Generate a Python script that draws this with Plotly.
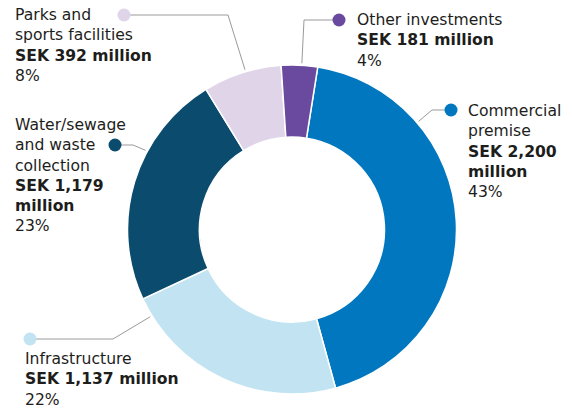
import math
import plotly.graph_objects as go

# Investment breakdown (SEK million)
categories = [
    "Commercial premise",
    "Infrastructure",
    "Water/sewage and waste collection",
    "Parks and sports facilities",
    "Other investments",
]
values_msek = [2200, 1137, 1179, 392, 181]
shares_pct = [43, 22, 23, 8, 4]
colors = ["#0077BE", "#C2E4F2", "#0B4C6E", "#E0D4E9", "#6A4A9E"]

# Canvas and donut geometry (pixels)
W, H = 572, 411
CX, CY, R, R_IN = 292, 229.5, 164.5, 92.5
ROTATION = 9

# Label layout: text block position (left x, centre of first line), marker dot,
# elbow of the leader line, angle (deg clockwise from 12 o'clock) where the
# leader meets the ring
label_layout = {
    "Commercial premise": dict(name=["Commercial", "premise"], wrap=True,
                               tx=466, ty=110.5, dot=(451, 110), elbow=(432, 110), ang=49.5),
    "Infrastructure": dict(name=["Infrastructure"], wrap=False,
                           tx=23, ty=359, dot=(30, 339), elbow=(113, 339), ang=238.4),
    "Water/sewage and waste collection": dict(name=["Water/sewage", "and waste", "collection"], wrap=True,
                                              tx=13, ty=125, dot=(115, 145), elbow=(133, 145), ang=298.4),
    "Parks and sports facilities": dict(name=["Parks and", "sports facilities"], wrap=False,
                                        tx=13, ty=15, dot=(124, 15), elbow=(228, 15), ang=343.6),
    "Other investments": dict(name=["Other investments"], wrap=False,
                              tx=355, ty=20, dot=(339, 20), elbow=(304, 20), ang=3.4),
}
FONT = "DejaVu Sans"
FONT_SIZE = 15.6
LINE_STEP = 1.3 * FONT_SIZE  # plotly's line height for multi-line text
TEXT_COLOR = "#1d1d1b"

fig = go.Figure()

# Donut
fig.add_trace(go.Pie(
    labels=categories,
    values=values_msek,
    sort=False,
    direction="clockwise",
    rotation=ROTATION,
    hole=R_IN / R,
    marker=dict(colors=colors, line=dict(color="white", width=1.5)),
    textinfo="none",
    hoverinfo="label+value",
    showlegend=False,
    domain=dict(
        x=[(CX - R) / W, (CX + R) / W],
        y=[(H - CY - R) / H, (H - CY + R) / H],
    ),
))

annotations = []
for cat, val, pct, col in zip(categories, values_msek, shares_pct, colors):
    lay = label_layout[cat]
    a = math.radians(lay["ang"])
    ax = CX + (R + 2) * math.sin(a)
    ay = CY - (R + 2) * math.cos(a)
    ex, ey = lay["elbow"]
    dx, dy = lay["dot"]
    # leader line
    fig.add_trace(go.Scatter(
        x=[dx, ex, ax], y=[dy, ey, ay], mode="lines",
        line=dict(color="#9a9a9a", width=1),
        hoverinfo="skip", showlegend=False,
    ))
    # marker dot
    fig.add_trace(go.Scatter(
        x=[dx], y=[dy], mode="markers",
        marker=dict(color=col, size=13, line=dict(width=0)),
        hoverinfo="skip", showlegend=False,
    ))
    amount = f"SEK {val:,} million"
    amount_lines = amount.replace(" million", "\nmillion").split("\n") if lay["wrap"] else [amount]
    lines = lay["name"] + [f"<b>{t}</b>" for t in amount_lines] + [f"{pct}%"]
    n = len(lines)
    annotations.append(dict(
        x=lay["tx"], y=lay["ty"] + (n - 1) * LINE_STEP / 2, xref="x", yref="y",
        text="<br>".join(lines),
        showarrow=False, xanchor="left", yanchor="middle", align="left",
        font=dict(family=FONT, size=FONT_SIZE, color=TEXT_COLOR),
    ))

fig.update_layout(
    width=W, height=H,
    margin=dict(l=0, r=0, t=0, b=0),
    paper_bgcolor="white", plot_bgcolor="rgba(0,0,0,0)",
    xaxis=dict(range=[0, W], visible=False, fixedrange=True),
    yaxis=dict(range=[H, 0], visible=False, fixedrange=True),
    annotations=annotations,
)

fig.write_html("out.html")
